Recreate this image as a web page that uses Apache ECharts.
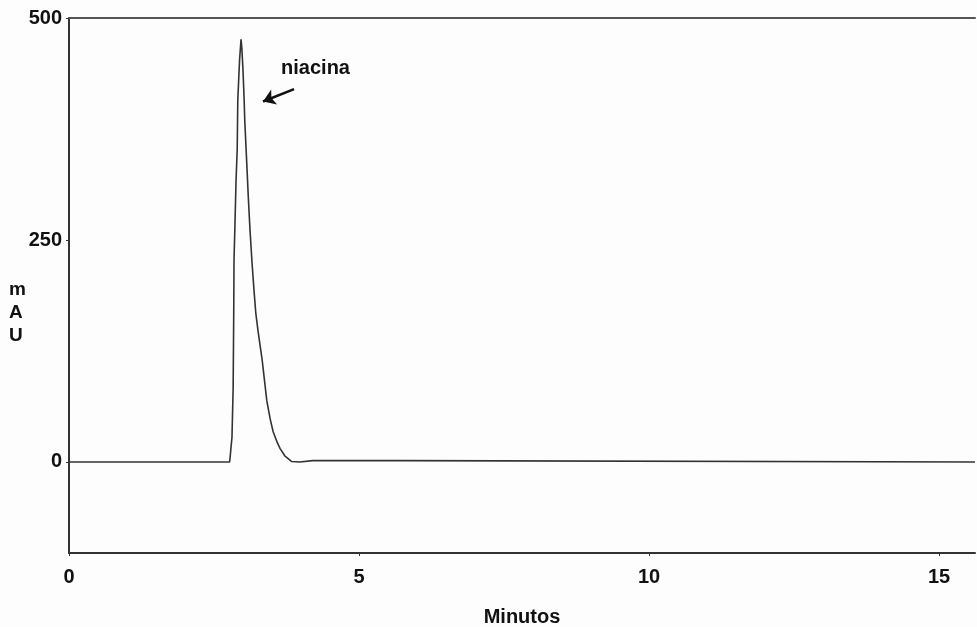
<!DOCTYPE html>
<html>
<head>
<meta charset="utf-8">
<script src="https://cdn.jsdelivr.net/npm/echarts@6/dist/echarts.min.js"></script>
<style>
    html, body { margin: 0; padding: 0; background: #fdfdfd; }
    #chart { width: 977px; height: 627px; }
</style>
</head>
<body>
<div id="chart"></div>
<script>
var minutos = [0, 2.77, 2.79, 2.81, 2.83, 2.84, 2.845, 2.86, 2.88, 2.90, 2.91, 2.94, 2.966,
    2.98, 3.00, 3.02, 3.03, 3.07, 3.09, 3.12, 3.155, 3.19, 3.22, 3.26, 3.33, 3.41, 3.47,
    3.52, 3.59, 3.64, 3.72, 3.84, 3.98, 4.2, 5.76, 5.79, 15.62];
var mau = [0, 0, 14, 28, 83, 167, 228, 264, 317, 352, 407, 452, 476,
    466, 441, 407, 385, 329, 300, 262, 225, 193, 168, 147, 115, 69, 48,
    34, 22, 15, 7, 0.5, 0, 1.5, 1.5, 0, 0];
var yTicks = [0, 250, 500];
var xTicks = [0, 5, 10, 15];
var pico = 'niacina';

window.onload = function () {
    initChart();
}

function initChart() {
    var datos = minutos.map(function (t, i) { return [t, mau[i]]; });
    var chart = echarts.init(document.getElementById('chart'));
    var fuente = { fontFamily: 'Liberation Sans', fontSize: 20, fontWeight: 'bold', color: '#111' };

    chart.setOption({
        backgroundColor: '#fdfdfd',
        animation: false,
        grid: { left: 69, right: 2, top: 18, bottom: 74, outerBoundsMode: 'none' },
        xAxis: [{
            type: 'value',
            min: 0,
            max: 15.62,
            name: 'Minutos',
            nameLocation: 'middle',
            nameGap: 54,
            nameTextStyle: fuente,
            axisLine: { onZero: false, lineStyle: { color: '#333', width: 2 } },
            axisTick: { customValues: xTicks, length: 3, lineStyle: { color: '#333' } },
            axisLabel: Object.assign({ customValues: xTicks, margin: 14 }, fuente),
            splitLine: { show: false }
        }, {
            type: 'value',
            position: 'top',
            min: 0,
            max: 15.62,
            axisLine: { show: true, onZero: false, lineStyle: { color: '#555', width: 2 } },
            axisTick: { show: false },
            axisLabel: { show: false },
            splitLine: { show: false }
        }],
        yAxis: {
            type: 'value',
            min: -102.5,
            max: 500,
            axisLine: { show: true, onZero: false, lineStyle: { color: '#333', width: 2 } },
            axisTick: { show: true, customValues: yTicks, length: 3, lineStyle: { color: '#333' } },
            axisLabel: Object.assign({ customValues: yTicks, margin: 7, padding: [8, 0, 0, 0] }, fuente),
            splitLine: { show: false }
        },
        graphic: [{
            type: 'text',
            left: 9,
            top: 278,
            style: {
                text: 'm\nA\nU',
                font: 'bold 19px "Liberation Sans"',
                lineHeight: 23,
                fill: '#111'
            }
        }],
        series: [{
            type: 'line',
            xAxisIndex: 0,
            data: datos,
            symbol: 'none',
            lineStyle: { color: '#333', width: 1.6 },
            markLine: {
                silent: true,
                symbol: ['none', 'arrow'],
                symbolSize: 12,
                label: { show: false },
                lineStyle: { color: '#111', width: 2.5, type: 'solid' },
                data: [[{ coord: [3.88, 420] }, { coord: [3.345, 406] }]]
            },
            markPoint: {
                symbol: 'circle',
                symbolSize: 0,
                label: {
                    show: true,
                    position: 'inside',
                    formatter: pico,
                    fontFamily: 'Liberation Sans',
                    fontSize: 20,
                    fontWeight: 'bold',
                    color: '#111'
                },
                data: [{ coord: [4.25, 443] }]
            }
        }]
    });
}
</script>
</body>
</html>
